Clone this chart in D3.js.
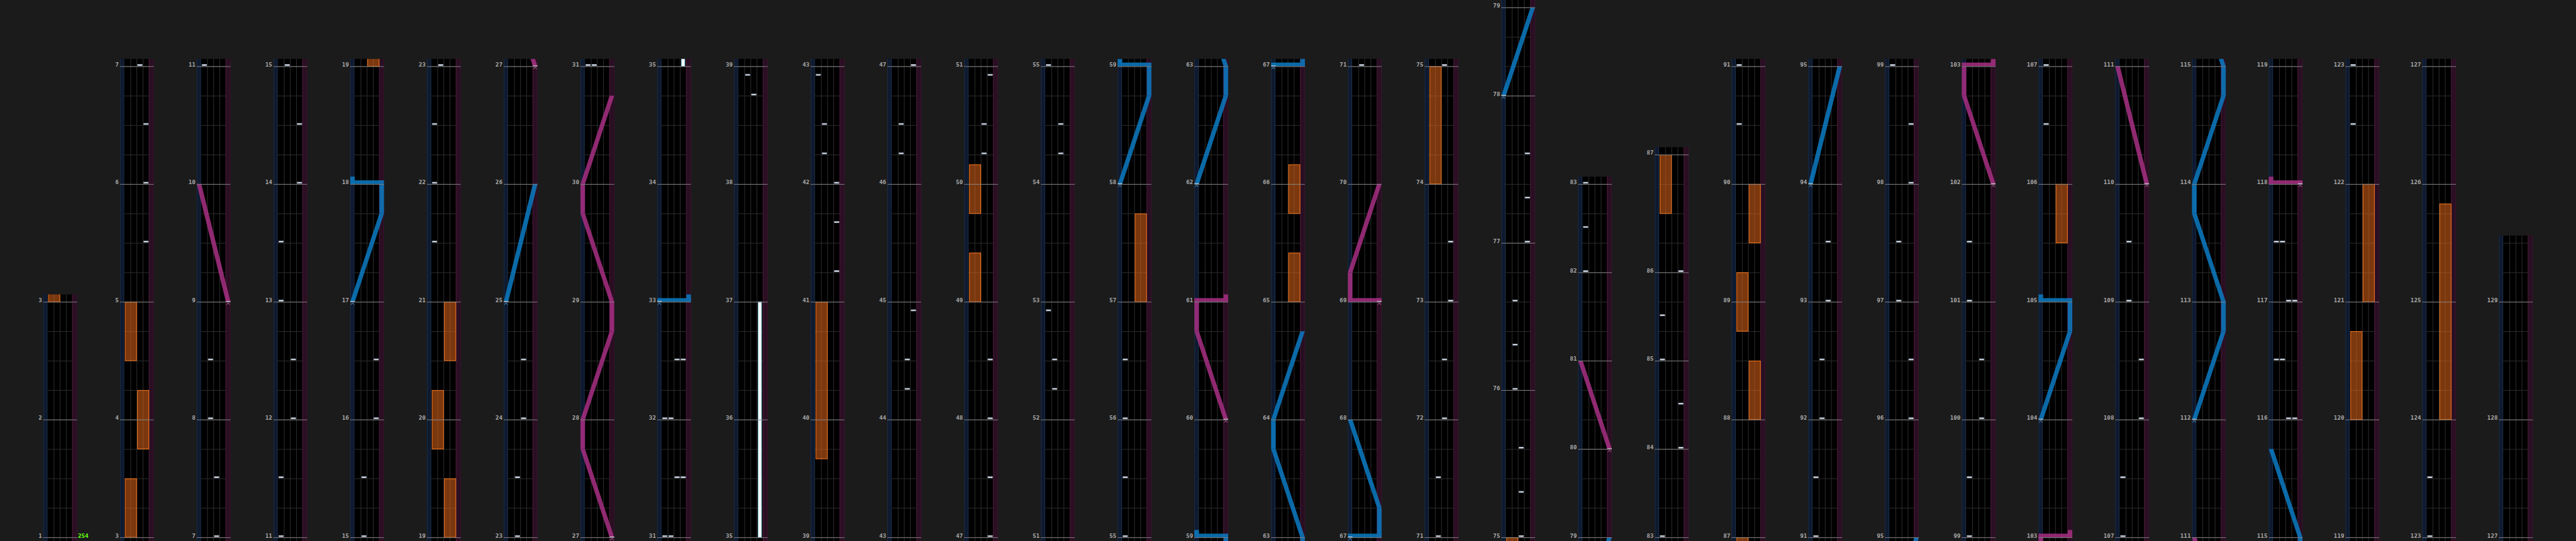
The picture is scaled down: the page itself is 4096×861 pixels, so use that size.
<!DOCTYPE html>
<html><head><meta charset="utf-8">
<script src="https://cdn.jsdelivr.net/npm/d3@7"></script>
<style>html,body{margin:0;padding:0;background:#1b1b1b;overflow:hidden}svg{display:block}</style>
</head><body>
<svg id="chart"></svg>
<script>
// ================= DATA =================
// first measure shown in each column (column k spans to the next column's first measure)
const columnStartMeasures = [1,3,7,11,15,19,23,27,31,35,39,43,47,51,55,59,63,67,71,75,79,83,87,91,95,99,103,107,111,115,119,123,127];
// chart end: [measure, beat]
const songEnd = [129, 2];
// [fromMeasure, beatsPerMeasure]
const timeSignatures = [[1,4],[75,5],[78,3],[86,4]];
// [measure, beat, text]
const bpmMarks = [[1,0,"254"]];
// BT chips: [measure, beat, lane 0-3]
const btChips = [
  [5,2,3],[6,0,3],[6,2,3],[7,0,2],
  [7,2,2],[8,0,1],[8,2,1],[11,0,0],
  [11,2,0],[12,0,2],[12,2,2],[13,0,0],[13,2,0],[14,0,3],[14,2,3],[15,0,1],
  [15,2,1],[16,0,3],[16,2,3],
  [21,2,0],[22,0,0],[22,2,0],[23,0,1],
  [23,2,1],[24,0,2],[24,2,2],
  [31,0,0],[31,0,1],
  [31,2,2],[31,2,3],[32,0,0],[32,0,1],[32,2,2],[32,2,3],
  [38,3,2],[38,3.667,1],
  [41,1,3],[41,2.667,3],[42,0,3],[42,1,1],[42,2,1],[42,3.667,0],
  [44,1,2],[44,2,2],[44,3.667,3],[46,1,1],[46,2,1],[47,0,3],
  [47,2,3],[48,0,3],[48,2,3],[50,1,2],[50,2,2],[50,3.667,3],
  [52,1,1],[52,2,1],[52,3.667,0],[54,1,2],[54,2,2],[55,0,0],
  [55,2,0],[56,0,0],[56,2,0],
  [71,0,1],
  [71,2,1],[72,0,2],[72,2,2],[73,0,3],[73,2,3],[75,0,2],
  [75,1.5,2],[75,3,2],[76,0,1],[76,1.5,1],[76,3,1],[77,0,3],[77,1.5,3],[77,3,3],
  [82,0,0],[82,1.5,0],[83,0,0],
  [84,0,3],[84,1.5,3],[85,0,0],[85,1.5,0],[86,0,3],
  [90,2,0],[91,0,0],
  [91,2,0],[92,0,1],[92,2,1],[93,0,2],[93,2,2],
  [96,0,3],[96,2,3],[97,0,1],[97,2,1],[98,0,3],[98,2,3],[99,0,0],
  [99,2,0],[100,0,2],[100,2,2],[101,0,0],[101,2,0],
  [106,2,0],[107,0,0],
  [107,2,0],[108,0,3],[108,2,3],[109,0,1],[109,2,1],
  [116,0,2],[116,0,3],[116,2,0],[116,2,1],[117,0,2],[117,0,3],[117,2,0],[117,2,1],
  [122,2,0],[123,0,0],
  [123,2,0]
];
// BT holds: [startMeasure, startBeat, endMeasure, endBeat, lane]
const btHolds = [[35,0,37,0,3]];
// FX holds: [startMeasure, startBeat, endMeasure, endBeat, side]
const fxHolds = [
  [3,0,3,2,"L"],[3,3,4,1,"R"],[4,2,5,0,"L"],
  [19,0,19,2,"R"],[19,3,20,1,"L"],[20,2,21,0,"R"],
  [39,2.667,41,0,"L"],
  [49,0,49,1.667,"L"],[49,3,50,0.667,"L"],
  [57,0,57,3,"R"],
  [65,0,65,1.667,"R"],[65,3,66,0.667,"R"],
  [74,0,75,0,"L"],
  [86,2,87,0,"L"],
  [88,0,88,2,"R"],[88,3,89,1,"L"],[89,2,90,0,"R"],
  [105,2,106,0,"R"],
  [120,0,120,3,"L"],[121,0,122,0,"R"],
  [124,0,125,3.333,"R"]
];
// lasers: lists of [measure, beat, position 0..1]; equal times = slam
const laserLeft = [
  [[17,0,0],[17,3,1],[18,0,1],[18,0,0]],
  [[25,0,0],[26,0,1]],
  [[33,0,0],[33,0,1]],
  [[58,0,0],[58,3,1],[59,0,1],[59,0,0]],
  [[62,0,0],[62,3,1],[63,0,1],[63,3,0],[64,0,0],[64,3,1]],
  [[67,0,0],[67,0,1],[67,1,1],[68,0,0]],
  [[78,0,0],[79,0,1]],
  [[94,0,0],[95,0,1]],
  [[104,0,0],[104,3,1],[105,0,1],[105,0,0]],
  [[112,0,0],[112,3,1],[113,0,1],[113,3,0],[114,0,0],[114,3,1],[115,0,1],[115,3,0]]
];
const laserRight = [
  [[9,0,1],[10,0,0]],
  [[27,0,1],[27,3,0],[28,0,0],[28,3,1],[29,0,1],[29,3,0],[30,0,0],[30,3,1]],
  [[60,0,1],[60,3,0],[61,0,0],[61,0,1]],
  [[69,0,1],[69,0,0],[69,1,0],[70,0,1]],
  [[80,0,1],[81,0,0]],
  [[102,0,1],[102,3,0],[103,0,0],[103,0,1]],
  [[110,0,1],[111,0,0]],
  [[118,0,1],[118,0,0]]
];

// ================= LAYOUT =================
const W = 4195, H = 882;
const BEAT = 48, BASE = 876, OVER = 12, COLW = 55, LW = 7.5;

function beatsIn(m){ let b = 4; for (const [f,n] of timeSignatures) if (m >= f) b = n; return b; }
const mStart = {}; { let acc = 0; for (let m = 1; m <= 140; m++){ mStart[m] = acc; acc += beatsIn(m); } }
const abs = (m,b) => mStart[m] + b;

const svg = d3.select('#chart').attr('width',4096).attr('height',861).attr('viewBox',`0 0 ${W} ${H}`);
svg.append('rect').attr('width',W).attr('height',H).attr('fill','#1b1b1b');
const defs = svg.append('defs');

const nCols = columnStartMeasures.length;
const xCol = d3.scaleLinear().domain([0,1]).range([70,195]);
const laneX = d3.scaleLinear().domain([0,4]).range([7,47]);
const laserX = d3.scaleLinear().domain([0,1]).range([0,COLW-LW]);

const laserStyle = {
  L: {fill:'#0c7cc4', mark:'#5aa8dc'},
  R: {fill:'#a83084', mark:'#d070b0'}
};

columnStartMeasures.forEach((m0,k) => {
  const b0 = abs(m0,0);
  const b1 = k < nCols-1 ? abs(columnStartMeasures[k+1],0) : abs(songEnd[0],songEnd[1]);
  const y = d3.scaleLinear().domain([b0,b0+1]).range([BASE,BASE-BEAT]);
  const top = y(b1) - OVER, bot = BASE + OVER;
  const vb0 = y.invert(bot), vb1 = y.invert(top);
  const g = svg.append('g').attr('transform',`translate(${xCol(k)},0)`);

  // stripes + lane field
  g.append('rect').attr('x',0).attr('y',top).attr('width',7).attr('height',bot-top).attr('fill','#0f1a2f');
  g.append('rect').attr('x',0).attr('y',top).attr('width',1).attr('height',bot-top).attr('fill','#1a2d47');
  g.append('rect').attr('x',6).attr('y',top).attr('width',1).attr('height',bot-top).attr('fill','#1c3350');
  g.append('rect').attr('x',7).attr('y',top).attr('width',40).attr('height',bot-top).attr('fill','#000');
  g.append('rect').attr('x',47).attr('y',top).attr('width',8).attr('height',bot-top).attr('fill','#2a0f22');
  g.append('rect').attr('x',47).attr('y',top).attr('width',1).attr('height',bot-top).attr('fill','#4a1a3a');
  g.append('rect').attr('x',54).attr('y',top).attr('width',1).attr('height',bot-top).attr('fill','#3a1430');

  // lane lines
  [1,2,3].forEach(i => g.append('line').attr('x1',laneX(i)+0.5).attr('x2',laneX(i)+0.5)
      .attr('y1',top).attr('y2',bot).attr('stroke','#2f2f2f').attr('stroke-width',1));
  // beat lines
  for (let b = Math.ceil(vb0); b <= Math.floor(vb1); b++){
    g.append('line').attr('x1',7).attr('x2',47).attr('y1',y(b)+0.5).attr('y2',y(b)+0.5)
      .attr('stroke','#2f2f2f').attr('stroke-width',1);
  }

  const content = g.append('g');
  defs.append('clipPath').attr('id','clip'+k).append('rect')
    .attr('x',-1).attr('y',top).attr('width',COLW+2).attr('height',bot-top);
  content.attr('clip-path',`url(#clip${k})`);

  // FX holds
  fxHolds.forEach(([ma,ba,mb,bb,side]) => {
    const t1 = abs(ma,ba), t2 = abs(mb,bb);
    if (t2 < vb0 || t1 > vb1) return;
    const xl = side === 'L' ? laneX(0) : laneX(2);
    content.append('rect').attr('x',xl+1.5).attr('y',y(t2)+0.5).attr('width',18.5).attr('height',y(t1)-y(t2)-0.5)
      .attr('fill','#e0661a').attr('fill-opacity',0.55).attr('stroke','#ff7a1e').attr('stroke-width',1);
  });
  // BT holds
  btHolds.forEach(([ma,ba,mb,bb,lane]) => {
    const t1 = abs(ma,ba), t2 = abs(mb,bb);
    if (t2 < vb0 || t1 > vb1) return;
    content.append('rect').attr('x',laneX(lane)+2.5).attr('y',y(t2)).attr('width',5.5).attr('height',y(t1)-y(t2))
      .attr('fill','#f4faff').attr('stroke','#8cc4e4').attr('stroke-width',1);
  });
  // BT chips
  btChips.forEach(([m,b,lane]) => {
    const t = abs(m,b);
    if (t < vb0 - 0.1 || t > vb1 + 0.1) return;
    content.append('rect').attr('x',laneX(lane)+1.6).attr('y',y(t)-3).attr('width',7.6).attr('height',2)
      .attr('fill','#f4f8ff').attr('stroke','#8d9aab').attr('stroke-width',0.8);
  });

  // lasers
  [['L',laserLeft],['R',laserRight]].forEach(([side,list]) => {
    const st = laserStyle[side];
    list.forEach(pts => {
      const P = pts.map(([m,b,p]) => ({t:abs(m,b),p}));
      if (P[P.length-1].t < vb0 - 1 || P[0].t > vb1 + 1) return;
      const lg = content.append('g').attr('opacity',0.85);
      let lastSlam = false;
      for (let i = 0; i < P.length-1; i++){
        const a = P[i], c = P[i+1];
        if (a.t === c.t){
          const xa = Math.min(laserX(a.p),laserX(c.p)), xb = Math.max(laserX(a.p),laserX(c.p)) + LW;
          lg.append('rect').attr('x',xa).attr('y',y(a.t)-6).attr('width',xb-xa).attr('height',6).attr('fill',st.fill);
          lastSlam = (i === P.length-2);
        } else {
          const pts4 = [[laserX(a.p),y(a.t)],[laserX(a.p)+LW,y(a.t)],[laserX(c.p)+LW,y(c.t)],[laserX(c.p),y(c.t)]];
          lg.append('polygon').attr('points',pts4.map(q=>q.join(',')).join(' ')).attr('fill',st.fill);
        }
      }
      if (lastSlam){
        const e = P[P.length-1];
        lg.append('rect').attr('x',laserX(e.p)).attr('y',y(e.t)-OVER).attr('width',LW).attr('height',OVER).attr('fill',st.fill);
      }
      // start marker
      const s = P[0], sx = laserX(s.p), sy = y(s.t);
      content.append('rect').attr('x',sx).attr('y',sy-1.2).attr('width',LW).attr('height',1.2)
        .attr('fill','#e8eef6').attr('opacity',0.85);
      content.append('polyline').attr('points',`${sx+1},${sy+5} ${sx+LW/2},${sy+1.5} ${sx+LW-1},${sy+5}`)
        .attr('fill','none').attr('stroke',st.mark).attr('stroke-width',1).attr('opacity',0.9);
    });
  });

  // measure lines + labels
  for (let m = 1; m <= 140; m++){
    const t = mStart[m];
    if (t < b0 || t > b1) continue;
    g.append('line').attr('x1',0).attr('x2',COLW).attr('y1',y(t)+0.5).attr('y2',y(t)+0.5)
      .attr('stroke','#858585').attr('stroke-width',1);
    g.append('text').attr('x',-2).attr('y',y(t)+0.5).attr('text-anchor','end')
      .attr('font-family','DejaVu Sans Mono, monospace').attr('font-weight','bold').attr('font-size',9.5)
      .attr('fill','#a6a6a6').text(m);
  }
  // bpm marks
  bpmMarks.forEach(([m,b,txt]) => {
    const t = abs(m,b);
    if (t < b0 || t >= b1) return;
    g.append('text').attr('x',COLW+1.5).attr('y',y(t)+0.5)
      .attr('font-family','DejaVu Sans Mono, monospace').attr('font-weight','bold').attr('font-size',9.5)
      .attr('fill','#66ff11').text(txt);
  });
});
</script>
</body></html>
